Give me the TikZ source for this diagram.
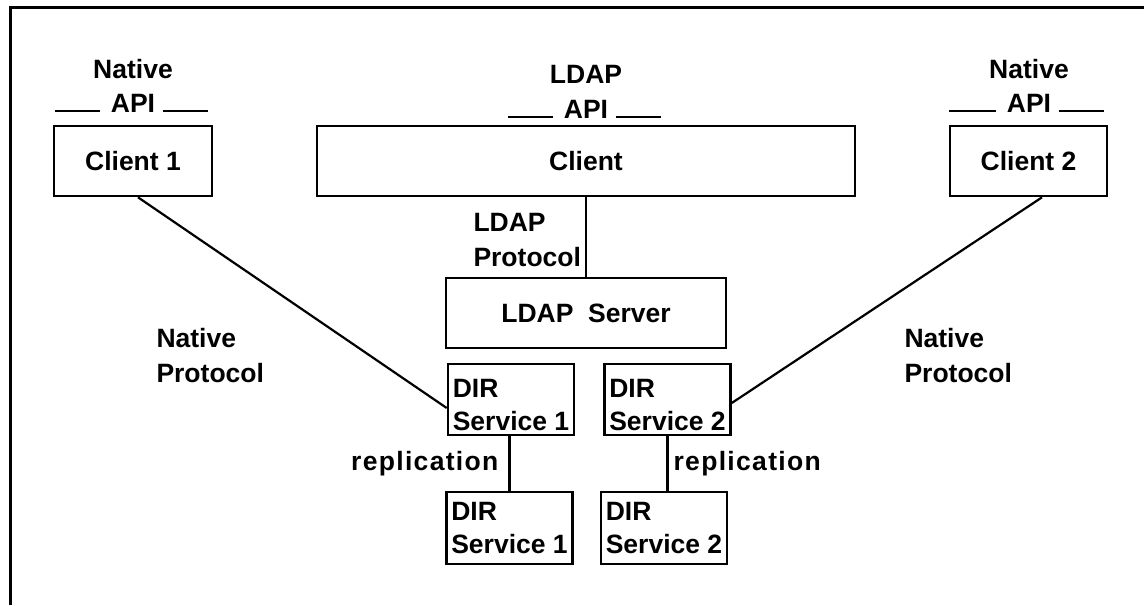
\documentclass[tikz,border=0pt]{standalone}
\usepackage{fontspec}
\setmainfont{Liberation Sans}
\usetikzlibrary{calc}
\newlength{\du}
\setlength{\du}{0.5pt}
\newcommand{\dialabelfont}{\fontsize{13.25}{16.5}\selectfont\bfseries}
\newcommand{\dirlift}{\rule{0pt}{30\du}}
\definecolor{dialinecolor}{rgb}{0.000000, 0.000000, 0.000000}
\tikzset{
  diabox/.style={draw=dialinecolor, line width=2.6\du, minimum height=70\du, inner sep=0pt, font=\dialabelfont},
  dirbox/.style={diabox, minimum height=71\du, minimum width=126\du, align=left},
  dialabel/.style={inner sep=0pt, font=\dialabelfont},
  protolabel/.style={inner sep=0pt, align=left, font=\fontsize{13.25}{17.5}\selectfont\bfseries},
  repllabel/.style={inner sep=0pt, font=\dialabelfont\addfontfeature{LetterSpace=5}},
}

\begin{document}
\begin{tikzpicture}
\pgftransformxscale{1.000000}
\pgftransformyscale{-1.000000}
\definecolor{dialinecolor}{rgb}{0.000000, 0.000000, 0.000000}
\pgfsetstrokecolor{dialinecolor}
\useasboundingbox (0\du,0\du) rectangle (1144\du,605\du);
\pgfsetlinewidth{3.000000\du}
\pgfsetdash{}{0pt}
\pgfsetmiterjoin
\draw (1144.000000\du,7.000000\du)--(10.000000\du,7.000000\du)--(10.000000\du,605.000000\du);
% boxes
\node[diabox, minimum width=158\du] (client1) at (133.000000\du,161.000000\du){Client 1};
\node[diabox, minimum width=538\du] (client) at (586.000000\du,161.000000\du){Client};
\node[diabox, minimum width=157\du] (client2) at (1028.500000\du,161.000000\du){Client 2};
\node[diabox, minimum width=280\du] (ldapsrv) at (586.000000\du,313.000000\du){LDAP~~Server};
\node[dirbox] (dir1) at (511.000000\du,399.500000\du){\dirlift DIR\\Service 1};
\node[dirbox] (dir2) at (667.500000\du,399.500000\du){\dirlift DIR\\Service 2};
\node[dirbox, minimum height=72\du] (dir1r) at (509.500000\du,528.000000\du){DIR\\Service 1};
\node[dirbox, minimum height=72\du] (dir2r) at (664.000000\du,528.000000\du){DIR\\Service 2};
% setfont left to latex
\node[dialabel, anchor=base] (native1) at (133.000000\du,78.000000\du){Native};
\node[dialabel, anchor=base] (api1) at (133.000000\du,112.000000\du){API};
\node[dialabel, anchor=base] (ldap) at (586.000000\du,83.000000\du){LDAP};
\node[dialabel, anchor=base] (api) at (586.000000\du,118.000000\du){API};
\node[dialabel, anchor=base] (native2) at (1029.000000\du,78.000000\du){Native};
\node[dialabel, anchor=base] (api2) at (1029.000000\du,112.000000\du){API};
\node[protolabel, anchor=west] (ldapproto) at (472.000000\du,240.000000\du){LDAP\\Protocol};
\node[protolabel, anchor=west] (nativeproto1) at (155.000000\du,356.000000\du){Native\\Protocol};
\node[protolabel, anchor=west] (nativeproto2) at (903.000000\du,356.000000\du){Native\\Protocol};
\pgfsetlinewidth{2.200000\du}
\pgfsetbuttcap
{
\draw ($(api1.base west)+(-9\du,-1\du)$)--++(-45\du,0);
\draw ($(api1.base east)+(6\du,-1\du)$)--++(45\du,0);
\draw ($(api.base west)+(-9\du,-1\du)$)--++(-45\du,0);
\draw ($(api.base east)+(6\du,-1\du)$)--++(45\du,0);
\draw ($(api2.base west)+(-9\du,-1\du)$)--++(-47\du,0);
\draw ($(api2.base east)+(6\du,-1\du)$)--++(45\du,0);
}
{
\draw (client.south)--(ldapsrv.north);
\draw ($(client1.south)+(5\du,0)$)--($(dir1.west)+(0,8.5\du)$);
\draw ($(client2.south)+(13.5\du,0)$)--($(dir2.east)+(0,3.5\du)$);
\draw (dir1r.north)--(dir1r.north |- dir1.south) node[repllabel, midway, left=10\du] (repl1){replication};
\draw (dir2.south)--(dir2.south |- dir2r.north) node[repllabel, midway, right=5\du] (repl2){replication};
}
\end{tikzpicture}
\end{document}
